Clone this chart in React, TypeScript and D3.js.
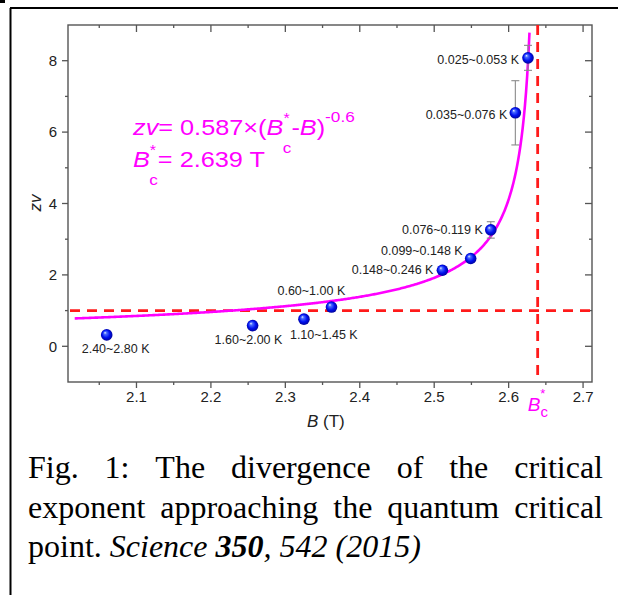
import React, { useMemo } from "react";
import * as d3 from "d3";

// ---- data ----
const fieldB = [2.06, 2.256, 2.325, 2.362, 2.511, 2.549, 2.576, 2.609, 2.626];
const zvValues = [0.32, 0.58, 0.76, 1.1, 2.13, 2.46, 3.26, 6.54, 8.08];
const zvErrors = [0, 0, 0, 0, 0.04, 0, 0.23, 0.9, 0.35];
const tempLabels = [
  "2.40~2.80 K",
  "1.60~2.00 K",
  "1.10~1.45 K",
  "0.60~1.00 K",
  "0.148~0.246 K",
  "0.099~0.148 K",
  "0.076~0.119 K",
  "0.035~0.076 K",
  "0.025~0.053 K",
];
// fit: zv = A * (Bc - B)^p
const fitA = 0.587;
const fitBc = 2.639;
const fitP = -0.6;
const fitRange = [2.017, 2.628];
const refZv = 1;

const xTicks = [2.1, 2.2, 2.3, 2.4, 2.5, 2.6, 2.7];
const xMinor = [2.05, 2.15, 2.25, 2.35, 2.45, 2.55, 2.65];
const yTicks = [0, 2, 4, 6, 8];
const yMinor = [1, 3, 5, 7];

const captionLines = [
  "Fig. 1: The divergence of the critical",
  "exponent approaching the quantum critical",
];

// label layout (anchor, dx, dy) relative to marker
const labelLayout: [string, number, number][] = [
  ["start", -25, 18],
  ["start", -38, 18],
  ["start", -14, 20],
  ["start", -54, -12],
  ["end", -9, 4],
  ["end", -8, -3],
  ["end", -8, 4],
  ["end", -8, 6],
  ["end", -9, 6],
];

const W = 618;
const H = 595;
const M = { left: 68, right: 592, top: 25, bottom: 382 };
const MAG = "#ff00ff";
const RED = "#ff1a1a";
const AX = "#555555";
const SANS = "Arial, 'Liberation Sans', sans-serif";
const SERIF = "'Times New Roman', 'Liberation Serif', serif";

function measure(text: string, font: string) {
  if (typeof document === "undefined") return text.length * 14;
  const c = document.createElement("canvas");
  const ctx = c.getContext("2d")!;
  ctx.font = font;
  return ctx.measureText(text).width;
}

export default function App() {
  const x = d3.scaleLinear().domain([2.008, 2.712]).range([M.left, M.right]);
  const y = d3.scaleLinear().domain([-1, 9]).range([M.bottom, M.top]);

  const fitPts = d3
    .range(0, 401)
    .map((i) => fitRange[0] + ((fitRange[1] - fitRange[0]) * i) / 400)
    .map((b) => [b, fitA * Math.pow(fitBc - b, fitP)] as [number, number]);
  const line = d3
    .line<[number, number]>()
    .x((d) => x(d[0]))
    .y((d) => y(d[1]))
    .curve(d3.curveLinear);

  const capSize = 32;
  const capFont = `${capSize}px 'Liberation Serif'`;
  const justified = useMemo(() => {
    return captionLines.map((ln) => {
      const words = ln.split(" ");
      const widths = words.map((w) => measure(w, capFont));
      const total = widths.reduce((a, b) => a + b, 0);
      const x0 = 28;
      const x1 = 603;
      const gap = (x1 - x0 - total) / (words.length - 1);
      let cx = x0;
      return words.map((w, i) => {
        const px = cx;
        cx += widths[i] + gap;
        return { w, px };
      });
    });
  }, []);

  const tickFont = 15;

  return (
    <svg
      width={W}
      height={H}
      style={{ position: "absolute", left: 0, top: 0, background: "#fff" }}
    >
      <defs>
        <radialGradient id="ball" cx="0.5" cy="0.5" r="0.55" fx="0.35" fy="0.3">
          <stop offset="0%" stopColor="#eef2ff" />
          <stop offset="22%" stopColor="#4a6cff" />
          <stop offset="60%" stopColor="#0010f0" />
          <stop offset="100%" stopColor="#00008a" />
        </radialGradient>
      </defs>
      <rect x={0} y={0} width={W} height={H} fill="#fff" />
      {/* outer frame */}
      <rect x={0} y={0} width={5} height={3} fill="#000" />
      <line x1={10.5} y1={8} x2={10.5} y2={H} stroke="#000" strokeWidth={2} />
      <line x1={10} y1={8} x2={W} y2={8} stroke="#000" strokeWidth={2} />

      {/* plot frame */}
      <rect
        x={M.left}
        y={M.top}
        width={M.right - M.left}
        height={M.bottom - M.top}
        fill="none"
        stroke={AX}
        strokeWidth={1.4}
      />
      {/* x ticks */}
      {xTicks.map((t) => (
        <g key={"xt" + t}>
          <line x1={x(t)} x2={x(t)} y1={M.bottom} y2={M.bottom + 6} stroke={AX} strokeWidth={1.3} />
          <line x1={x(t)} x2={x(t)} y1={M.top} y2={M.top + 7} stroke={AX} strokeWidth={1.3} />
          <text
            x={x(t)}
            y={M.bottom + 20}
            textAnchor="middle"
            fontFamily={SANS}
            fontSize={tickFont}
            fill="#222"
          >
            {t.toFixed(1)}
          </text>
        </g>
      ))}
      {xMinor.map((t) => (
        <g key={"xm" + t}>
          <line x1={x(t)} x2={x(t)} y1={M.bottom} y2={M.bottom + 3} stroke={AX} strokeWidth={1.3} />
          <line x1={x(t)} x2={x(t)} y1={M.top} y2={M.top + 3} stroke={AX} strokeWidth={1.3} />
        </g>
      ))}
      {/* y ticks */}
      {yTicks.map((t) => (
        <g key={"yt" + t}>
          <line x1={M.left - 6} x2={M.left} y1={y(t)} y2={y(t)} stroke={AX} strokeWidth={1.3} />
          <line x1={M.right - 7} x2={M.right} y1={y(t)} y2={y(t)} stroke={AX} strokeWidth={1.3} />
          <text
            x={M.left - 11}
            y={y(t) + 5.3}
            textAnchor="end"
            fontFamily={SANS}
            fontSize={tickFont}
            fill="#222"
          >
            {t}
          </text>
        </g>
      ))}
      {yMinor.map((t) => (
        <g key={"ym" + t}>
          <line x1={M.left - 3} x2={M.left} y1={y(t)} y2={y(t)} stroke={AX} strokeWidth={1.3} />
          <line x1={M.right - 3} x2={M.right} y1={y(t)} y2={y(t)} stroke={AX} strokeWidth={1.3} />
        </g>
      ))}

      {/* axis labels */}
      <text
        transform={`translate(41,203) rotate(-90)`}
        textAnchor="middle"
        fontFamily={SANS}
        fontSize={17}
        fontStyle="italic"
        fill="#222"
      >
        zv
      </text>
      <text x={307} y={427} fontFamily={SANS} fontSize={17} fill="#222">
        <tspan fontStyle="italic">B</tspan>
        <tspan> (T)</tspan>
      </text>

      {/* reference dashed lines */}
      <line
        x1={M.left + 2}
        x2={M.right}
        y1={y(refZv)}
        y2={y(refZv)}
        stroke={RED}
        strokeWidth={2.8}
        strokeDasharray="10,7"
      />
      <line
        x1={x(fitBc)}
        x2={x(fitBc)}
        y1={M.top}
        y2={M.bottom}
        stroke={RED}
        strokeWidth={2.8}
        strokeDasharray="10,7"
      />

      {/* fit curve */}
      <path d={line(fitPts) || ""} fill="none" stroke={MAG} strokeWidth={2.6} />

      {/* error bars */}
      {fieldB.map((b, i) =>
        zvErrors[i] > 0 ? (
          <g key={"e" + i} stroke="#8a8a8a" strokeWidth={1.1}>
            <line x1={x(b)} x2={x(b)} y1={y(zvValues[i] - zvErrors[i])} y2={y(zvValues[i] + zvErrors[i])} />
            <line x1={x(b) - 4} x2={x(b) + 4} y1={y(zvValues[i] - zvErrors[i])} y2={y(zvValues[i] - zvErrors[i])} />
            <line x1={x(b) - 4} x2={x(b) + 4} y1={y(zvValues[i] + zvErrors[i])} y2={y(zvValues[i] + zvErrors[i])} />
          </g>
        ) : null
      )}
      {/* markers */}
      {fieldB.map((b, i) => (
        <circle key={"p" + i} cx={x(b)} cy={y(zvValues[i])} r={5.8} fill="url(#ball)" />
      ))}
      {/* labels */}
      {fieldB.map((b, i) => (
        <text
          key={"l" + i}
          x={x(b) + labelLayout[i][1]}
          y={y(zvValues[i]) + labelLayout[i][2]}
          textAnchor={labelLayout[i][0] as any}
          fontFamily={SANS}
          fontSize={12.5}
          fill="#222"
        >
          {tempLabels[i]}
        </text>
      ))}

      {/* formula */}
      <g transform="translate(133,0) scale(1.15,1)" fontFamily={SANS} fill={MAG}>
        <text x={0} y={135} fontSize={22}>
          <tspan fontStyle="italic">zv</tspan>
          <tspan>= 0.587×(</tspan>
          <tspan fontStyle="italic">B</tspan>
          <tspan fontSize={14} dy={-12}>*</tspan>
          <tspan fontSize={15} dx={-6} dy={30}>c</tspan>
          <tspan dy={-18}>-</tspan>
          <tspan fontStyle="italic">B</tspan>
          <tspan>)</tspan>
          <tspan fontSize={15} dy={-13}>-0.6</tspan>
        </text>
        <text x={0} y={167} fontSize={22}>
          <tspan fontStyle="italic">B</tspan>
          <tspan fontSize={14} dy={-12}>*</tspan>
          <tspan fontSize={15} dx={-6} dy={30}>c</tspan>
          <tspan dy={-18}>= {fitBc} T</tspan>
        </text>
      </g>
      {/* Bc* under axis */}
      <text x={x(fitBc) - 10} y={410.5} fontFamily={SANS} fontSize={19} fill={MAG}>
        <tspan fontStyle="italic">B</tspan>
        <tspan fontSize={13} dy={-13}>*</tspan>
        <tspan fontSize={15} dx={-5} dy={19}>c</tspan>
      </text>

      {/* caption */}
      {justified.map((words, li) => (
        <g key={"c" + li}>
          {words.map((wd, wi) => (
            <text
              key={wi}
              x={wd.px}
              y={478 + li * 39.5}
              fontFamily={SERIF}
              fontSize={capSize}
              fill="#000"
            >
              {wd.w}
            </text>
          ))}
        </g>
      ))}
      <text x={28} y={557} fontFamily={SERIF} fontSize={capSize} fill="#000">
        <tspan>point. </tspan>
        <tspan fontStyle="italic">Science </tspan>
        <tspan fontStyle="italic" fontWeight="bold">350</tspan>
        <tspan fontStyle="italic">, 542 (2015)</tspan>
      </text>
    </svg>
  );
}
